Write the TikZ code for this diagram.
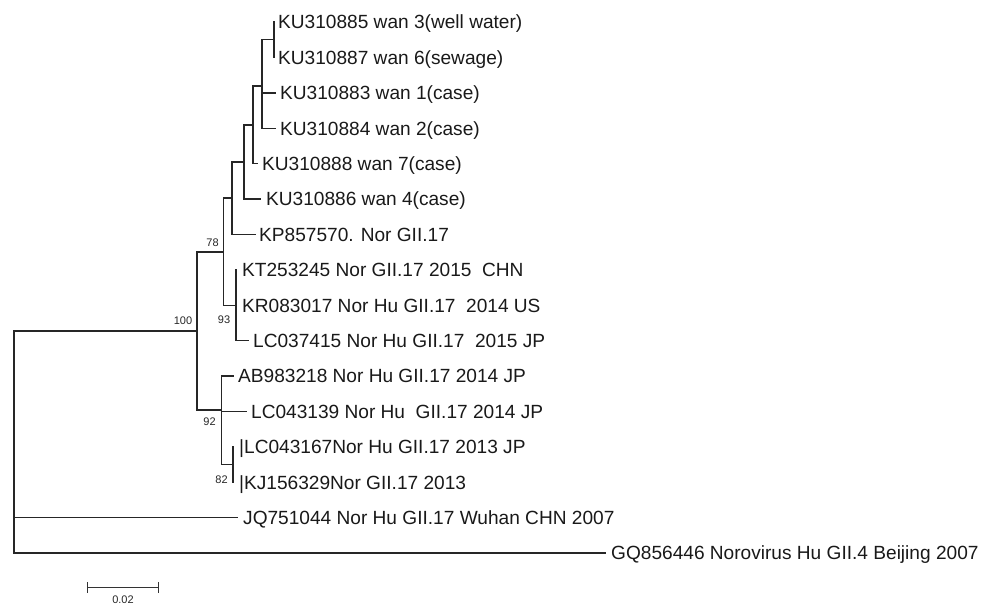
\documentclass[tikz,border=0pt]{standalone}
\usepackage{fontspec}
\setmainfont{Liberation Sans}
\begin{document}
\begin{tikzpicture}[x=1pt,y=-1pt,
  br/.style={line width=1.4pt, color=black!85, line cap=rect},
  leaf/.style={anchor=base west, inner sep=0pt, font=\fontsize{19.1}{22}\selectfont, text=black!90},
  boot/.style={inner sep=0pt, font=\fontsize{11}{13}\selectfont, text=black!85}]
\useasboundingbox (0,0) rectangle (993,606);
% internal nodes
\coordinate (A) at (274,39.7);
\coordinate (B) at (262,86);
\coordinate (C) at (253,125);
\coordinate (D) at (244,162);
\coordinate (E) at (232,198);
\coordinate (N78) at (223.5,252);
\coordinate (N93) at (236,305.2);
\coordinate (N100) at (197,331);
\coordinate (N92) at (221.5,410);
\coordinate (N82) at (233,464.5);
\coordinate (R) at (14,331);
% leaf ends
\coordinate (e0) at (274,22);
\coordinate (e1) at (274,57.4);
\coordinate (e2) at (275,92.8);
\coordinate (e3) at (275,128.2);
\coordinate (e4) at (257,163.6);
\coordinate (e5) at (260,199);
\coordinate (e6) at (255,234.4);
\coordinate (e7) at (236,269.8);
\coordinate (e8) at (236,305.2);
\coordinate (e9) at (248,340.6);
\coordinate (e10) at (233,376);
\coordinate (e11) at (246,411.4);
\coordinate (e12) at (233,446.8);
\coordinate (e13) at (233,482.2);
\coordinate (e14) at (237,517.6);
\coordinate (e15) at (605,553);
% branches
\draw[br] (A) |- (e0);
\draw[br] (A) |- (e1);
\draw[br] (B) |- (A);
\draw[br] (B) |- (e2);
\draw[br] (B) |- (e3);
\draw[br] (C) |- (B);
\draw[br] (C) |- (e4);
\draw[br] (D) |- (C);
\draw[br] (D) |- (e5);
\draw[br] (E) |- (D);
\draw[br] (E) |- (e6);
\draw[br] (N78) |- (E);
\draw[br] (N78) |- (N93);
\draw[br] (N93) |- (e7);
\draw[br] (N93) |- (e9);
\draw[br] (N100) |- (N78);
\draw[br] (N100) |- (N92);
\draw[br] (N92) |- (e10);
\draw[br] (N92) |- (e11);
\draw[br] (N92) |- (N82);
\draw[br] (N82) |- (e12);
\draw[br] (N82) |- (e13);
\draw[br] (R) |- (N100);
\draw[br] (R) |- (e14);
\draw[br] (R) |- (e15);
% leaf labels
\node[leaf] (t0) at (278,28.8) {KU310885 wan 3(well water)};
\node[leaf] (t1) at (278,64.2) {KU310887 wan 6(sewage)};
\node[leaf] (t2) at (280,99.6) {KU310883 wan 1(case)};
\node[leaf] (t3) at (280,135) {KU310884 wan 2(case)};
\node[leaf] (t4) at (262,170.4) {KU310888 wan 7(case)};
\node[leaf] (t5) at (266,205.8) {KU310886 wan 4(case)};
\node[leaf] (t6) at (259,241.2) {KP857570. Nor GII.17};
\node[leaf] (t7) at (242,276.6) {KT253245 Nor GII.17 2015\ \ CHN};
\node[leaf] (t8) at (242,312) {KR083017 Nor Hu GII.17\ \ 2014 US};
\node[leaf] (t9) at (253,347.4) {LC037415 Nor Hu GII.17\ \ 2015 JP};
\node[leaf] (t10) at (238,382.8) {AB983218 Nor Hu GII.17 2014 JP};
\node[leaf] (t11) at (251,418.2) {LC043139 Nor Hu\ \ GII.17 2014 JP};
\node[leaf] (t12) at (239,453.6) {|LC043167Nor Hu GII.17 2013 JP};
\node[leaf] (t13) at (239,489) {|KJ156329Nor GII.17 2013};
\node[leaf] (t14) at (243,524.4) {JQ751044 Nor Hu GII.17 Wuhan CHN 2007};
\node[leaf] (t15) at (611,559.8) {GQ856446 Norovirus Hu GII.4 Beijing 2007};
% bootstrap values
\node[boot] (b78) at (212.5,243) {78};
\node[boot] (b100) at (183,320.5) {100};
\node[boot] (b93) at (224,320) {93};
\node[boot] (b92) at (209.5,422) {92};
\node[boot] (b82) at (221.5,480) {82};
% scale bar
\coordinate (s1) at (87,587);
\coordinate (s2) at (158,587);
\draw[line width=1pt, color=black!80] (s1) -- (s2);
\draw[line width=1pt, color=black!80] ([yshift=-5.5pt]s1) -- ([yshift=5.5pt]s1);
\draw[line width=1pt, color=black!80] ([yshift=-5.5pt]s2) -- ([yshift=5.5pt]s2);
\node[boot] (sl) at (123,600) {0.02};
\end{tikzpicture}
\end{document}
